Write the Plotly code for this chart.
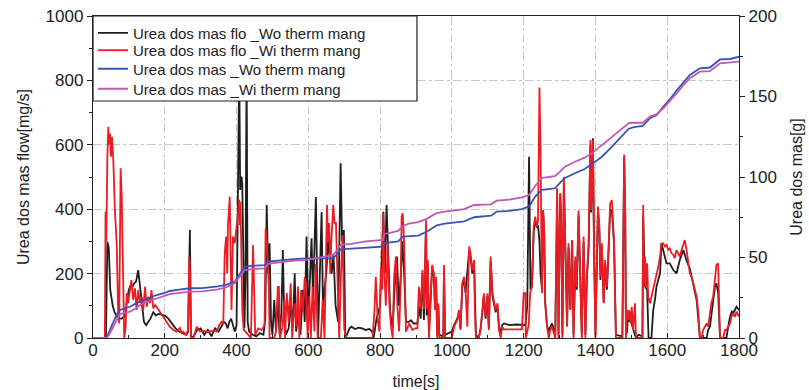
import plotly.graph_objects as go

# ---------------- data ----------------
t_flow_wo = [0, 36, 40, 44, 48, 55, 60, 70, 80, 90, 95, 100, 105, 110, 115, 120, 126, 130, 136, 142, 148, 155, 160, 168,
             175, 182, 190, 200, 210, 220, 230, 240, 250, 260, 265, 270, 273, 280, 290, 300, 310, 320, 330, 340, 350,
             360, 365, 370, 375, 380, 385, 390, 395, 400, 404, 407.5, 410, 414, 416, 419, 422, 425, 428, 431, 435,
             445, 455, 465, 475, 480, 484, 488, 492, 496, 500, 505, 510, 515, 520, 525, 529, 533, 538, 545, 552, 557,
             562, 566, 572, 578, 585, 590, 595, 600, 605, 609, 613, 617, 621, 627, 632, 637, 641, 645, 650, 655, 660,
             665, 670, 676, 683, 690, 694, 699, 703, 710, 715, 720, 730, 740, 750, 760, 770, 778, 782, 790, 800, 809,
             813, 818, 822, 828, 835, 840, 847, 852, 858, 862, 867, 872, 880, 886, 894, 904, 908, 913, 918, 922, 925,
             928, 930, 933, 936, 941, 945, 950, 953, 956, 959, 962, 965, 976, 978, 981, 1000, 1006, 1015, 1020, 1024,
             1029, 1034, 1038, 1043, 1048, 1052, 1057, 1062, 1064, 1067, 1075, 1080, 1085, 1089, 1094, 1099, 1103,
             1108, 1113, 1117, 1122, 1127, 1131, 1136, 1140, 1145, 1160, 1180, 1195, 1205, 1210, 1212, 1215, 1219,
             1223, 1228, 1232, 1237, 1240, 1244, 1247, 1251, 1254, 1257, 1260, 1265, 1270, 1274, 1279, 1283, 1288,
             1293, 1296, 1297, 1302, 1305, 1308, 1312, 1316, 1321, 1325, 1330, 1335, 1339, 1344, 1348, 1353, 1358,
             1362, 1367, 1372, 1376, 1381, 1386, 1388, 1391, 1393, 1396, 1400, 1404, 1407, 1411, 1414, 1418, 1423,
             1427, 1432, 1437, 1441, 1446, 1449, 1452, 1457, 1475, 1480, 1483, 1485, 1488, 1491, 1494, 1498, 1502,
             1507, 1513, 1520, 1531, 1533, 1535, 1538, 1544, 1548, 1556, 1561, 1566, 1570, 1575, 1580, 1584, 1589,
             1598, 1607, 1617, 1626, 1635, 1645, 1654, 1663, 1672, 1682, 1686, 1691, 1710, 1714, 1719, 1724, 1733,
             1737, 1742, 1747, 1765, 1770, 1775, 1780, 1784, 1793, 1800]
flow_wo = [0, 0, 299, 280, 150, 100, 80, 60, 60, 70, 120, 150, 165, 160, 170, 175, 211, 175, 120, 50, 40, 50, 60, 80,
           70, 75, 72, 70, 60, 45, 30, 20, 15, 10, 20, 335, 0, 5, 25, 30, 10, 25, 5, 30, 20,
           40, 50, 45, 30, 50, 60, 40, 20, 40, 480, 850, 460, 501, 475, 200, 30, 200, 850, 50, 20,
           10, 5, 15, 10, 60, 413, 200, 294, 50, 10, 118, 20, 118, 10, 80, 273, 50, 10, 30, 100, 40,
           201, 20, 80, 10, 150, 50, 315, 60, 200, 310, 120, 304, 438, 0, 200, 391, 80, 150, 200, 300, 250,
           200, 260, 100, 50, 543, 300, 335, 0, 20, 30, 35, 28, 32, 30, 25, 28, 20, 0, 60, 100, 392,
           200, 413, 250, 80, 30, 150, 253, 100, 200, 300, 200, 50, 50, 55, 45, 45, 100, 60, 200, 56, 190,
           350, 70, 230, 10, 120, 220, 190, 90, 180, 10, 100, 10, 5, 210, 10, 20, 40, 60, 80, 30,
           160, 180, 140, 201, 270, 250, 200, 230, 80, 10, 0, 30, 80, 130, 60, 130, 30,
           240, 130, 110, 80, 100, 40, 10, 40, 45, 40, 42, 40, 40, 100, 273, 563, 150,
           159, 330, 360, 346, 350, 300, 200, 150, 397, 340, 110, 40, 20, 35, 45, 30, 10,
           400, 280, 10, 449, 330, 10, 480, 290, 40, 280, 90, 304, 10, 240, 150, 380, 180,
           10, 300, 10, 180, 280, 600, 390, 490, 620, 280, 10, 230, 400, 330, 180, 280, 110,
           230, 150, 280, 400, 392, 330, 290, 10, 5, 560, 380, 10, 20, 80, 50, 80, 40,
           20, 0, 10, 5, 380, 253, 160, 150, 0, 0, 87, 120, 159, 180, 201, 294, 270,
           232, 232, 211, 201, 242, 273, 240, 216, 170, 118, 66, 0, 0, 25, 35, 77, 159,
           170, 140, 0, 0, 35, 66, 82, 77, 97, 87]

t_flow_wi = [0, 33, 35, 37, 40, 42.7, 45, 47.3, 50, 53, 56.6, 61, 66, 70, 73, 77, 80, 84.5, 87, 91, 94, 98, 103, 107,
             112, 117, 121.6, 126, 131, 136, 140, 145, 150, 154, 159, 163, 168, 173, 177, 186, 196, 205, 214, 224,
             233, 242, 247, 252, 258, 265, 268, 270, 273, 280, 289, 298, 310, 320, 330, 345, 352, 358, 363, 367, 371,
             374, 376, 381, 383, 386, 390, 395, 400, 404, 407, 409, 411, 413, 416, 420, 425, 440, 443, 446, 449, 452,
             460, 470, 478, 481, 485, 488, 490, 492, 505, 510, 515, 518, 521, 528, 533, 535, 540, 545, 551, 555, 562,
             567, 571, 575, 580, 585, 590, 593, 598, 603, 607, 612, 617, 621, 626, 635, 640, 645, 649, 652, 655, 658,
             661, 664, 669.5, 673, 677, 682, 686, 691, 695.6, 700, 705, 779, 784, 788, 793, 798, 802, 806, 809, 812,
             816, 821, 826, 830, 835, 839, 844, 848, 853, 857, 860, 863, 867, 872, 881, 890, 897, 904, 908, 913, 918,
             922, 925, 928, 930, 933, 936, 941, 945, 950, 953, 956, 959, 962, 965, 976, 978, 981, 1000, 1006, 1015,
             1020, 1024, 1029, 1034, 1038, 1043, 1048, 1052, 1057, 1062, 1064, 1067, 1075, 1080, 1085, 1089, 1094,
             1099, 1103, 1108, 1113, 1117, 1122, 1127, 1131, 1136, 1140, 1145, 1160, 1180, 1195, 1200, 1205, 1206,
             1214, 1218, 1223, 1228, 1232, 1237, 1240, 1244, 1247, 1251, 1254, 1257, 1260, 1265, 1270, 1274, 1279,
             1283, 1288, 1293, 1296, 1297, 1302, 1305, 1308, 1312, 1316, 1321, 1325, 1330, 1335, 1339, 1344, 1348,
             1353, 1358, 1362, 1367, 1372, 1376, 1381, 1386, 1388, 1391, 1393, 1396, 1400, 1404, 1407, 1411, 1414,
             1418, 1423, 1427, 1432, 1437, 1441, 1446, 1449, 1452, 1457, 1475, 1480, 1483, 1485, 1488, 1491, 1494,
             1498, 1501, 1505, 1510, 1513, 1531, 1533, 1535, 1538, 1541, 1544, 1547, 1552, 1556, 1561, 1566, 1570,
             1575, 1580, 1584, 1589, 1594, 1598, 1603, 1607, 1612, 1617, 1621, 1626, 1631, 1635, 1640, 1645, 1649,
             1654, 1658, 1663, 1668, 1672, 1677, 1682, 1686, 1691, 1696, 1700, 1705, 1710, 1714, 1719, 1723, 1728,
             1733, 1737, 1742, 1745, 1747, 1756, 1761, 1765, 1770, 1775, 1779, 1784, 1789, 1793, 1800]
flow_wi = [0, 0, 392, 300, 560, 656, 600, 635, 563, 625, 553, 397, 294, 87, 45, 527, 439, 211, 0, 35, 139, 108, 159, 180,
           118, 154, 87, 149, 108, 128, 87, 159, 97, 128, 108, 149, 92, 102, 97, 82, 66, 51, 35, 25,
           20, 31, 15, 20, 9, 25, 253, 211, 0, 0, 35, 20, 22, 18, 22, 20, 40, 50, 45, 263, 315,
           201, 346, 439, 294, 87, 315, 294, 346, 377, 429, 350, 423, 242, 87, 25, 20, 0, 120, 289, 150, 10,
           30, 25, 40, 340, 294, 201, 150, 0, 0, 20, 159, 159, 0, 35, 118, 0, 140, 50, 170, 0, 108,
           35, 160, 0, 149, 80, 190, 170, 0, 130, 0, 160, 20, 230, 0, 0, 120, 0, 250, 413, 300, 357,
           200, 300, 413, 356, 357, 150, 0, 200, 320, 30, 0, 0, 80, 190, 60, 20, 221, 150, 387, 200,
           100, 294, 100, 40, 0, 190, 253, 100, 20, 150, 377, 387, 294, 20, 45, 25, 30, 30, 159, 90, 211,
           90, 211, 366, 90, 242, 0, 128, 227, 201, 87, 190, 0, 108, 0, 0, 227, 0, 0, 35, 56,
           87, 25, 170, 190, 149, 35, 284, 263, 211, 242, 87, 0, 0, 25, 87, 139, 66,
           139, 25, 253, 139, 118, 87, 108, 25, 0, 35, 27, 27, 28, 27, 139, 139, 0,
           40, 139, 159, 346, 377, 346, 366, 778, 584, 139, 397, 346, 108, 35, 0, 25, 35,
           20, 0, 465, 294, 0, 449, 346, 0, 501, 294, 35, 294, 87, 304, 0, 253, 159,
           397, 190, 0, 315, 0, 190, 294, 615, 397, 501, 615, 294, 0, 242, 408, 346, 190,
           294, 108, 242, 159, 294, 418, 428, 346, 294, 0, 0, 570, 397, 0, 87, 56, 87,
           45, 97, 25, 108, 0, 0, 413, 159, 253, 159, 232, 128, 108, 128, 149, 170, 190,
           221, 253, 294, 294, 284, 289, 274, 278, 263, 258, 248, 273, 263, 253, 273, 294, 304,
           273, 232, 201, 190, 170, 149, 128, 87, 4, 0, 25, 35, 45, 35, 87, 108, 128,
           190, 227, 232, 108, 0, 0, 25, 25, 35, 45, 66, 77, 66, 82, 66]

t_mass = [0, 38, 45, 56, 65, 75, 90, 103, 120, 131, 150, 177, 200, 214, 240, 270, 304, 348, 370, 395, 410, 423, 450,
          478, 488, 510, 534, 560, 593, 620, 669, 680, 690, 720, 760, 808, 812, 830, 850, 864, 880, 906, 930, 945,
          958, 980, 1000, 1034, 1062, 1080, 1109, 1125, 1160, 1195, 1215, 1232, 1251, 1270, 1287, 1300, 1315, 1343,
          1370, 1390, 1418, 1446, 1474, 1493, 1507, 1532, 1552, 1571, 1589, 1610, 1627, 1645, 1663, 1691, 1719,
          1747, 1775, 1800]
mass_wo = [0, 0, 4, 10.1, 14, 17.4, 18.5, 19.4, 21.5, 22.5, 24.5, 26.7, 28, 29.2, 30, 30.9, 31, 32, 33, 35, 40, 44.3,
           45, 45.3, 47.4, 48, 48.4, 49, 49.5, 49.5, 49.5, 52, 55, 55.5, 56, 56.7, 59, 59.5, 60, 63, 63.3, 63.6, 66,
           68, 70, 71, 71.4, 72.5, 75, 75.5, 76, 78.5, 79, 80, 81.7, 87.8, 92, 92.5, 93, 96, 99.4, 102.3, 105, 108,
           112.6, 118.8, 125.5, 130, 131, 131.7, 136.5, 138.5, 143.7, 149, 154, 159, 163.4, 167.5, 168, 173, 173.3,
           174.7]
mass_wi = [0, 0, 2, 6.5, 10, 14.9, 15.8, 16.3, 18.5, 20.5, 22.5, 24.6, 26, 27.3, 28, 28.8, 29, 30.2, 31.5, 34, 38.5,
           42.2, 43, 43.2, 46, 46.8, 47.4, 48, 48.4, 49.5, 51.5, 54.5, 57.8, 58.5, 60, 61, 64.6, 65.5, 66.5, 69.6,
           71, 72, 74, 76, 77.6, 78.5, 79, 80, 82.6, 82.8, 83, 85.3, 86, 87.4, 88.8, 94.4, 99.4, 100, 100.6, 103,
           106.4, 109.5, 112, 114.7, 119.9, 125, 130.4, 133.5, 133.7, 133.7, 137.5, 139, 142.7, 147.5, 152, 157,
           161.3, 165.4, 165.8, 170.6, 171.2, 171.6]

names = ["Urea dos mas flo _Wo therm mang", "Urea dos mas flo _Wi therm mang",
         "Urea dos mas _Wo therm mang", "Urea dos mas _Wi therm mang"]
colors = ["#1e1e1e", "#ec1c24", "#3a52b4", "#c257b4"]

FONT = "Liberation Sans, Arial, Helvetica, sans-serif"

fig = go.Figure()
fig.add_trace(go.Scatter(x=t_flow_wo, y=flow_wo, mode="lines", name=names[0], legend="legend",
                         line=dict(color=colors[0], width=1.8)))
fig.add_trace(go.Scatter(x=t_flow_wi, y=flow_wi, mode="lines", name=names[1], legend="legend2",
                         line=dict(color=colors[1], width=1.8)))
fig.add_trace(go.Scatter(x=t_mass, y=mass_wo, mode="lines", name=names[2], yaxis="y2", legend="legend3",
                         line=dict(color=colors[2], width=1.8)))
fig.add_trace(go.Scatter(x=t_mass, y=mass_wi, mode="lines", name=names[3], yaxis="y2", legend="legend4",
                         line=dict(color=colors[3], width=1.8)))

# legend frame (white box with black border in the upper-left of the plot)
fig.add_shape(type="rect", xref="x domain", yref="y domain", x0=0, x1=0.5015, y0=0.736, y1=1,
              fillcolor="white", line=dict(color="#222222", width=1.2), layer="above")

grid = dict(showgrid=True, gridcolor="#c8c8c8", gridwidth=1, griddash="dashdot")


def leg(ypos):
    return dict(x=0, y=ypos, xanchor="left", yanchor="middle", bgcolor="rgba(0,0,0,0)",
                borderwidth=0, font=dict(size=15, color="#222222"), itemwidth=30)


fig.update_layout(
    width=809, height=390,
    margin=dict(l=93, r=70, t=16, b=52),
    paper_bgcolor="white", plot_bgcolor="white",
    font=dict(family=FONT, size=17, color="#222222"),
    showlegend=True,
    legend=leg(0.947), legend2=leg(0.893), legend3=leg(0.8354), legend4=leg(0.7733),
    xaxis=dict(range=[0, 1800], dtick=200, tick0=0, ticks="inside", ticklen=5, tickcolor="#222",
               showline=True, linecolor="#222", linewidth=1.3, mirror=True, zeroline=False, automargin=False,
               ticklabelstandoff=-4,
               minor=dict(dtick=100, ticks="inside", ticklen=3, tickcolor="#222", showgrid=False),
               title=dict(text="time[s]", font=dict(size=16), standoff=17), **grid),
    yaxis=dict(range=[0, 1000], dtick=200, tick0=0, ticks="outside", ticklen=5, tickcolor="#222",
               showline=True, linecolor="#222", linewidth=1.3, zeroline=False, automargin=False,
               minor=dict(dtick=100, ticks="outside", ticklen=3, tickcolor="#222", showgrid=False),
               title=dict(text="Urea dos mas flow[mg/s]", font=dict(size=16), standoff=12), **grid),
    yaxis2=dict(range=[0, 200], dtick=50, tick0=0, overlaying="y", side="right", ticks="outside",
                ticklen=5, tickcolor="#222", showline=True, linecolor="#222", linewidth=1.3,
                zeroline=False, showgrid=False, automargin=False,
                minor=dict(dtick=25, ticks="outside", ticklen=3, tickcolor="#222", showgrid=False),
                title=dict(text="Urea dos mas[g]", font=dict(size=16), standoff=14)),
)

fig.write_html("out.html")
